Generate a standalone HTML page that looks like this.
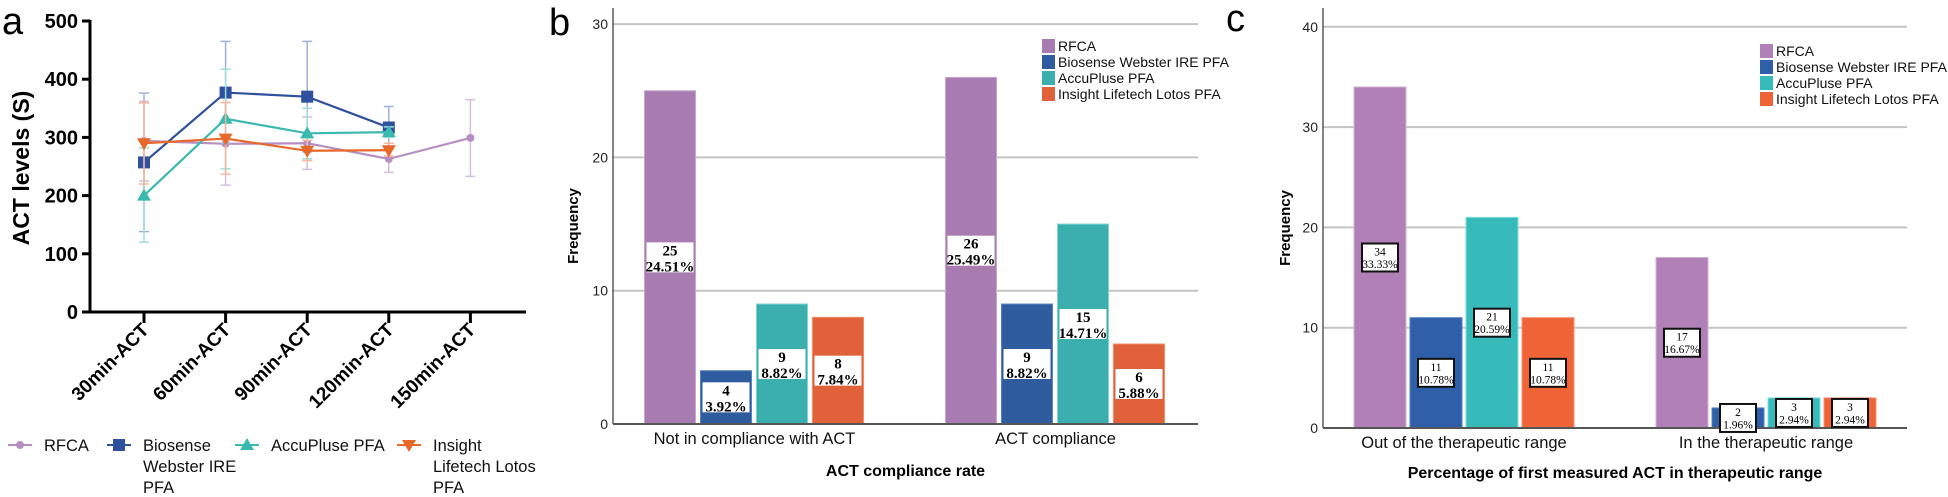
<!DOCTYPE html>
<html><head><meta charset="utf-8"><style>
html,body{margin:0;padding:0;background:#fff;}
svg{display:block;font-family:"Liberation Sans",Arial,sans-serif;}
</style></head><body>
<svg id="fig" width="1948" height="497" viewBox="0 0 1948 497" xmlns="http://www.w3.org/2000/svg">
<g id="pa"></g>
<g id="pb"></g>
<g id="pc"></g>
</svg>
<script>
// Panel a data
const aCats = ["30min-ACT","60min-ACT","90min-ACT","120min-ACT","150min-ACT"];
const aTicks = [0,100,200,300,400,500];
const aNames = ["RFCA","Biosense Webster IRE PFA","AccuPluse PFA","Insight Lifetech Lotos PFA"];
const rfcaMean = [294,289,290,263,299];
const rfcaLo = [225,218,245,240,233];
const rfcaHi = [362,360,335,285,365];
const bioMean = [257,377,370,317,null];
const bioLo = [138,290,275,281,null];
const bioHi = [376,465,465,353,null];
const accMean = [200,332,307,309,null];
const accLo = [120,246,263,300,null];
const accHi = [282,417,350,318,null];
const insMean = [290,298,277,278,null];
const insLo = [220,237,260,268,null];
const insHi = [359,360,295,290,null];
// Panel b data
const bCats = ["Not in compliance with ACT","ACT compliance"];
const bTicks = [0,10,20,30];
const bRfca = [25,26];
const bBio = [4,9];
const bAcc = [9,15];
const bIns = [8,6];
const bRfcaPct = ["24.51%","25.49%"];
const bBioPct = ["3.92%","8.82%"];
const bAccPct = ["8.82%","14.71%"];
const bInsPct = ["7.84%","5.88%"];
// Panel c data
const cCats = ["Out of the therapeutic range","In the therapeutic range"];
const cTicks = [0,10,20,30,40];
const cRfca = [34,17];
const cBio = [11,2];
const cAcc = [21,3];
const cIns = [11,3];
const cRfcaPct = ["33.33%","16.67%"];
const cBioPct = ["10.78%","1.96%"];
const cAccPct = ["20.59%","2.94%"];
const cInsPct = ["10.78%","2.94%"];

const NS="http://www.w3.org/2000/svg";
function mk(parent,tag,attrs,text){const e=document.createElementNS(NS,tag);for(const k in attrs)e.setAttribute(k,attrs[k]);if(text!==undefined)e.textContent=text;parent.appendChild(e);return e;}

// ---------- Panel A ----------
const pa=document.getElementById('pa');
const ay=v=>312-(v/500)*291;
const ax=i=>144+i*81.6;
let t=mk(pa,'text',{x:2,y:34,'font-size':38});t.textContent='a';


t=mk(pa,'text',{transform:'translate(29,168) rotate(-90)','text-anchor':'middle','font-size':23,'font-weight':'bold'},'ACT levels  (S)');


let l=mk(pa,'path',{d:'M90,20 V312 H526',stroke:'#000','stroke-width':3,fill:'none'});


aTicks.forEach(v=>{
  mk(pa,'line',{x1:82,x2:90,y1:ay(v),y2:ay(v),stroke:'#000','stroke-width':3});
  const e=mk(pa,'text',{x:78,y:ay(v)+7,'text-anchor':'end','font-size':20,'font-weight':'bold'},v);
  
  
});
aCats.forEach((c,i)=>{
  mk(pa,'line',{x1:ax(i),x2:ax(i),y1:312,y2:323,stroke:'#000','stroke-width':3});
  const e=mk(pa,'text',{transform:`translate(${ax(i)+6},331) rotate(-45)`,'text-anchor':'end','font-size':19,'font-weight':'bold'},c);
  
  
});
const aSeries=[
  {m:rfcaMean,lo:rfcaLo,hi:rfcaHi,c:'#b68fc2',ec:'#d6bde0',mk:'circle'},
  {m:bioMean,lo:bioLo,hi:bioHi,c:'#2f509f',ec:'#9fb0d8',mk:'square'},
  {m:accMean,lo:accLo,hi:accHi,c:'#3bb9b1',ec:'#9fdedb',mk:'tri'},
  {m:insMean,lo:insLo,hi:insHi,c:'#e8682a',ec:'#f4b79a',mk:'tridown'}];
function marker(g,type,x,y,c){
  if(type==='circle')return mk(g,'circle',{cx:x,cy:y,r:4,fill:c});
  if(type==='square')return mk(g,'rect',{x:x-6,y:y-6,width:12,height:12,fill:c});
  if(type==='tri')return mk(g,'path',{d:`M${x},${y-7} L${x+7},${y+5} L${x-7},${y+5} Z`,fill:c});
  return mk(g,'path',{d:`M${x},${y+7} L${x+7},${y-5} L${x-7},${y-5} Z`,fill:c});
}
aSeries.forEach((s,si)=>{
  const g=mk(pa,'g',{});
  
  
  s.m.forEach((v,i)=>{ if(v===null)return;
    const x=ax(i);
    mk(g,'path',{d:`M${x},${ay(s.lo[i])} V${ay(s.hi[i])} M${x-5},${ay(s.lo[i])} h10 M${x-5},${ay(s.hi[i])} h10`,stroke:s.ec,'stroke-width':1.5,fill:'none'});
  });
  let d='';s.m.forEach((v,i)=>{if(v===null)return;d+=(d?'L':'M')+ax(i)+','+ay(v)+' ';});
  mk(g,'path',{d:d,stroke:s.c,'stroke-width':2.2,fill:'none'});
  s.m.forEach((v,i)=>{ if(v===null)return;
    const p=marker(g,s.mk,ax(i),ay(v),s.c);
    
    
  });
});
// legend a
const aLeg=[{x:8,tx:44,lines:['RFCA']},{x:107,tx:143,lines:['Biosense','Webster IRE','PFA']},{x:235,tx:271,lines:['AccuPluse PFA']},{x:397,tx:433,lines:['Insight','Lifetech Lotos','PFA']}];
aLeg.forEach((L,i)=>{
  const g=mk(pa,'g',{});
  
  
  mk(g,'line',{x1:L.x,x2:L.x+24,y1:445,y2:445,stroke:aSeries[i].c,'stroke-width':2});
  marker(g,aSeries[i].mk,L.x+12,445,aSeries[i].c);
  L.lines.forEach((s,j)=>mk(g,'text',{x:L.tx,y:451+j*21,'font-size':16.5,fill:'#111'},s));
});

// ---------- Bar panels ----------
function barPanel(p,opt){
  const g=document.getElementById(p);
  const y=v=>opt.y0-v*opt.k;
  let e=mk(g,'text',{x:opt.lx,y:opt.ly,'font-size':38},opt.letter);
  
  
  opt.ticks.forEach(v=>{
    if(v>0)mk(g,'line',{x1:opt.x0,x2:opt.x1,y1:y(v),y2:y(v),stroke:'#c4c4c4','stroke-width':2});
    const tl=mk(g,'text',{x:opt.x0-5,y:y(v)+5,'text-anchor':'end','font-size':14,fill:'#222'},v);
    
    
  });
  mk(g,'line',{x1:opt.x0,x2:opt.x0,y1:opt.top,y2:opt.y0,stroke:'#333','stroke-width':1.2});
  e=mk(g,'text',{transform:`translate(${opt.fx},${(opt.y0+opt.top)/2+10}) rotate(-90)`,'text-anchor':'middle','font-size':15,'font-weight':'bold'},'Frequency');
  
  
  const series=[opt.s[0],opt.s[1],opt.s[2],opt.s[3]];
  opt.cats.forEach((c,ci)=>{
    const cx=opt.c0+opt.cp*(ci+0.5);
    series.forEach((s,si)=>{
      const bx=cx-110+si*56, v=s.v[ci];
      const r=mk(g,'rect',{x:bx,y:y(v),width:opt.bw,height:v*opt.k,fill:s.c,stroke:s.bc,'stroke-width':1});
      
      
    });
    const ct=mk(g,'text',{x:cx,y:opt.y0+20,'text-anchor':'middle','font-size':16.5,fill:'#111'},c);
    
    
  });
  mk(g,'line',{x1:opt.x0,x2:opt.x1,y1:opt.y0,y2:opt.y0,stroke:'#555','stroke-width':2});
  opt.cats.forEach((c,ci)=>{
    const cx=opt.c0+opt.cp*(ci+0.5);
    series.forEach((s,si)=>{
      const bx=cx-110+si*56+opt.bw/2, v=s.v[ci], my=y(v/2);
      const lg=mk(g,'g',{});
      
      
      mk(lg,'rect',{x:bx-opt.lw/2,y:my-opt.lh/2,width:opt.lw,height:opt.lh,fill:'#fff',stroke:opt.border?'#111':'none','stroke-width':2});
      const ff='"Liberation Serif","Times New Roman",serif';
      mk(lg,'text',{x:bx,y:my-2,'text-anchor':'middle','font-size':opt.fs,'font-weight':opt.fw,'font-family':ff},v);
      mk(lg,'text',{x:bx,y:my+opt.fs-1,'text-anchor':'middle','font-size':opt.fs,'font-weight':opt.fw,'font-family':ff},s.p[ci]);
    });
  });
  e=mk(g,'text',{x:(opt.x0+opt.x1)/2,y:opt.ty,'text-anchor':'middle','font-size':16,'font-weight':'bold'},opt.title);
  
  
  const names=["RFCA","Biosense Webster IRE PFA","AccuPluse PFA","Insight Lifetech Lotos PFA"];
  names.forEach((n,i)=>{
    const lg=mk(g,'g',{});
    
    
    const ry=opt.legY+i*16;
    mk(lg,'rect',{x:opt.legX,y:ry-7,width:13,height:14,fill:series[i].c});
    mk(lg,'text',{x:opt.legX+16,y:ry+5,'font-size':14,fill:'#111'},n);
  });
}
barPanel('pb',{letter:'b',lx:549,ly:35,x0:613,x1:1198,y0:424,k:13.33,top:8,fx:578,
  c0:604,cp:301,bw:51,cats:bCats,ticks:bTicks,ty:476,title:'ACT compliance rate',
  s:[{v:bRfca,p:bRfcaPct,c:'#a87cb0',bc:'#c9a6cf'},{v:bBio,p:bBioPct,c:'#2f5b9f',bc:'#5a82c0'},{v:bAcc,p:bAccPct,c:'#3aafae',bc:'#7fd3d2'},{v:bIns,p:bInsPct,c:'#e0613a',bc:'#f08a66'}],
  lw:47,lh:30,fs:15,fw:'bold',border:false,legX:1042,legY:46});
barPanel('pc',{letter:'c',lx:1226,ly:31,x0:1323,x1:1907,y0:428,k:10.03,top:8,fx:1290,
  c0:1313,cp:302,bw:52,cats:cCats,ticks:cTicks,ty:478,title:'Percentage of first measured ACT in therapeutic range',
  s:[{v:cRfca,p:cRfcaPct,c:'#b080b6',bc:'#d2b0d6'},{v:cBio,p:cBioPct,c:'#2e5fa8',bc:'#5080c8'},{v:cAcc,p:cAccPct,c:'#36bbba',bc:'#7fe0df'},{v:cIns,p:cInsPct,c:'#ee6436',bc:'#f89070'}],
  lw:36,lh:28,fs:11.5,fw:'normal',border:true,legX:1760,legY:51});
</script>
</body></html>
